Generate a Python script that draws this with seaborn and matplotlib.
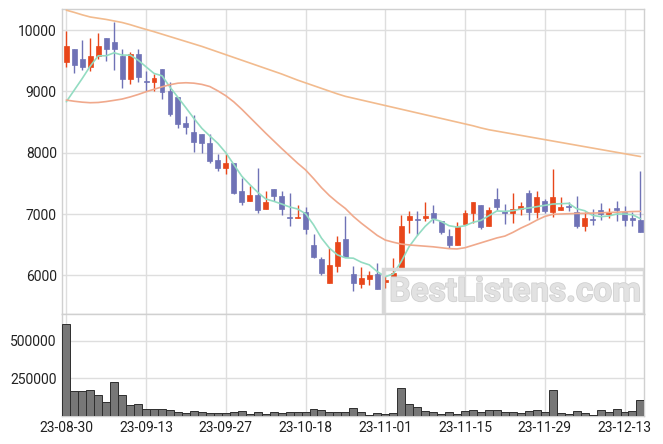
import matplotlib
matplotlib.use("Agg")
import matplotlib.pyplot as plt
import matplotlib.patheffects as pe
import numpy as np
import pandas as pd
import seaborn as sns
from matplotlib.patches import Rectangle

# Candle data (trading-day index 0..72)
opens = [9484, 9690, 9527, 9402, 9576, 9880, 9804, 9576, 9207, 9609,
         9163, 9158, 9364, 9006, 8908, 8484, 8338, 8310, 8164, 7874,
         7749, 7825, 7383, 7208, 7312, 7077, 7410, 7301, 6956, 6929,
         7033, 6497, 6268, 5880, 6159, 6596, 6022, 5864, 5946, 6022,
         5896, 5913, 6115, 6896, 6913, 6940, 7022, 6891, 6640, 6487,
         6831, 7011, 7148, 6798, 7250, 7054, 7011, 7076, 7348, 7033,
         7217, 7033, 7060, 7125, 7038, 6799, 6924, 7071, 7005, 7103,
         7038, 6940, 6908]
highs = [9989, 9690, 9837, 9880, 9946, 9880, 10136, 9685, 9647, 9690,
         9337, 9283, 9364, 9147, 8908, 8593, 8615, 8310, 8306, 7984,
         7984, 7825, 7590, 7454, 7754, 7383, 7410, 7383, 7344, 7148,
         7115, 6672, 6306, 6448, 6634, 6962, 6159, 6142, 6066, 6197,
         5989, 6284, 6984, 7049, 7049, 7197, 7142, 6891, 6760, 6869,
         7071, 7202, 7148, 7115, 7428, 7163, 7342, 7196, 7391, 7380,
         7245, 7739, 7283, 7196, 7293, 7033, 7087, 7179, 7098, 7207,
         7125, 7033, 7707]
lows = [9392, 9294, 9348, 9337, 9522, 9489, 9348, 9049, 9115, 9147,
        9006, 9000, 8870, 8604, 8408, 8300, 8012, 7996, 7836, 7699,
        7661, 7322, 7148, 7208, 7016, 7077, 7213, 6978, 6803, 6929,
        6672, 6290, 6000, 5880, 6060, 6306, 5738, 5787, 5836, 5782,
        5798, 5913, 6115, 6694, 6650, 6891, 6847, 6667, 6448, 6487,
        6831, 6853, 6760, 6798, 7073, 6837, 6853, 6984, 6902, 6935,
        7011, 6957, 7060, 7043, 6772, 6728, 6826, 6908, 6935, 6891,
        6804, 6804, 6701]
closes = [9739, 9435, 9402, 9576, 9739, 9696, 9696, 9207, 9609, 9240,
          9157, 9218, 8995, 8637, 8474, 8425, 8180, 8155, 7863, 7749,
          7825, 7339, 7191, 7312, 7060, 7202, 7290, 7077, 6929, 6956,
          6749, 6306, 6044, 6170, 6541, 6306, 5880, 5956, 6006, 5782,
          5924, 6038, 6809, 6967, 6902, 6973, 6929, 6700, 6487, 6792,
          7016, 7202, 6792, 7071, 7112, 7011, 7087, 7125, 7033, 7283,
          7043, 7283, 7120, 7114, 6799, 6940, 6897, 7005, 7038, 7060,
          6897, 6897, 6701]
volumes = [614000, 165000, 165000, 172000, 138000, 92000, 225000, 138000, 71000, 78000,
           45000, 45000, 45000, 38000, 25000, 18000, 33000, 25000, 18000, 18000,
           18000, 25000, 33000, 11000, 25000, 11000, 25000, 18000, 25000, 25000,
           25000, 45000, 38000, 25000, 25000, 25000, 51000, 25000, 4000, 18000,
           11000, 18000, 185000, 78000, 58000, 31000, 25000, 11000, 25000, 11000,
           31000, 38000, 25000, 38000, 38000, 25000, 25000, 18000, 31000, 38000,
           25000, 172000, 18000, 11000, 31000, 18000, 4000, 38000, 25000, 45000,
           25000, 31000, 105000]
ma5 = [8832, 9022, 9212, 9413, 9582, 9582, 9631, 9593, 9593, 9511,
       9402, 9294, 9256, 9071, 8903, 8734, 8560, 8398, 8273, 8153,
       8000, 7809, 7618, 7481, 7355, 7246, 7208, 7164, 7115, 7082,
       7006, 6825, 6607, 6443, 6333, 6285, 6279, 6213, 6170, 6060,
       5978, 6022, 6224, 6470, 6645, 6798, 6918, 6880, 6809, 6787,
       6809, 6864, 6896, 6973, 7050, 7043, 7054, 7082, 7098, 7120,
       7141, 7163, 7168, 7174, 7087, 7054, 6978, 6957, 6967, 7000,
       7000, 6989, 6924]
ma20 = [8859, 8840, 8825, 8816, 8820, 8835, 8855, 8876, 8910, 8950,
        8995, 9035, 9075, 9110, 9135, 9142, 9135, 9115, 9080, 9010,
        8930, 8830, 8710, 8580, 8450, 8320, 8195, 8070, 7950, 7830,
        7720, 7580, 7430, 7300, 7190, 7090, 6960, 6850, 6750, 6650,
        6575, 6540, 6510, 6495, 6485, 6475, 6465, 6450, 6435, 6430,
        6450, 6490, 6530, 6570, 6610, 6640, 6700, 6770, 6830, 6900,
        6960, 6995, 7000, 7005, 7010, 7011, 7015, 7020, 7025, 7030,
        7035, 7040, 7043]
ma60 = [10326, 10290, 10250, 10215, 10195, 10175, 10150, 10125, 10090, 10050,
        10012, 9975, 9935, 9895, 9855, 9815, 9775, 9735, 9690, 9645,
        9600, 9555, 9510, 9465, 9420, 9375, 9330, 9285, 9235, 9185,
        9140, 9095, 9050, 9005, 8960, 8920, 8890, 8860, 8830, 8800,
        8770, 8740, 8710, 8680, 8650, 8620, 8590, 8560, 8530, 8500,
        8470, 8440, 8405, 8375, 8352, 8329, 8306, 8283, 8260, 8237,
        8214, 8191, 8168, 8145, 8122, 8099, 8076, 8053, 8030, 8007,
        7984, 7961, 7938]

tick_pos = [0, 10, 20, 30, 40, 50, 60, 70]
tick_labels = ["23-08-30", "23-09-13", "23-09-27", "23-10-18",
               "23-11-01", "23-11-15", "23-11-29", "23-12-13"]

UP = "#e8461a"
DOWN = "#6f72b6"

sns.set_theme(style="whitegrid")
plt.rcParams["font.family"] = ["Roboto", "DejaVu Sans"]
plt.rcParams["grid.color"] = "#dedede"
plt.rcParams["axes.edgecolor"] = "#d0d0d0"

df = pd.DataFrame({"o": opens, "h": highs, "l": lows, "c": closes, "v": volumes,
                   "ma5": ma5, "ma20": ma20, "ma60": ma60})
df["i"] = np.arange(len(df))
df["col"] = np.where(df["c"] >= df["o"], UP, DOWN)
df["bot"] = df[["o", "c"]].min(axis=1)
df["hgt"] = (df["c"] - df["o"]).abs().clip(lower=12)

fig = plt.figure(figsize=(6.63, 4.44), dpi=100)
ax = fig.add_axes([0.094, 0.293, 0.878, 0.686])
axv = fig.add_axes([0.094, 0.064, 0.878, 0.229], sharex=ax)

# Kerzen
ax.vlines(df["i"], df["l"], df["h"], colors=df["col"], lw=1.0, zorder=3)
ax.bar(df["i"], df["hgt"], bottom=df["bot"], width=0.62, color=df["col"],
       edgecolor=df["col"], lw=0.5, zorder=4)

sns.lineplot(data=df, x="i", y="ma5", ax=ax, color="#93dcc2", lw=1.2, zorder=5)
sns.lineplot(data=df, x="i", y="ma20", ax=ax, color="#f0a98c", lw=1.2, zorder=5)
sns.lineplot(data=df, x="i", y="ma60", ax=ax, color="#f2bb8e", lw=1.2, zorder=5)

ax.set_ylim(5370, 10340)
ax.set_xlim(-0.5, 72.5)
ax.set_yticks([6000, 7000, 8000, 9000, 10000])
ax.set_xticks(tick_pos)
ax.tick_params(axis="x", labelbottom=False, length=0)
ax.tick_params(axis="y", labelsize=10, colors="#222222", length=0, pad=4)
ax.set_xlabel("")
ax.set_ylabel("")

# Wasserzeichen
ax.add_patch(Rectangle((0.551, 0.0), 0.449, 0.148, transform=ax.transAxes,
                       fill=False, edgecolor="#d8d8d8", lw=2.5, zorder=6))
ax.text(0.778, 0.072, "BestListens.com", transform=ax.transAxes, ha="center",
        va="center", fontsize=24, fontweight="bold", color="#e2e2e2", zorder=6,
        path_effects=[pe.withStroke(linewidth=1.2, foreground="#d0d0d0")])

# Volumen
axv.bar(df["i"], df["v"], width=1.0, color="#777777", edgecolor="#2e2e2e",
        lw=0.7, zorder=3)
axv.set_ylim(0, 680000)
axv.set_yticks([250000, 500000])
axv.set_yticklabels(["250000", "500000"])
axv.set_xticks(tick_pos)
axv.set_xticklabels(tick_labels)
axv.set_xlim(-0.5, 72.5)
axv.tick_params(axis="both", labelsize=10, colors="#222222", length=0, pad=4)

for a in (ax, axv):
    for s in a.spines.values():
        s.set_color("#d0d0d0")
        s.set_linewidth(1.0)
    a.grid(True, color="#dedede", lw=1.0)

fig.savefig("out.png", dpi=100)
plt.close(fig)
